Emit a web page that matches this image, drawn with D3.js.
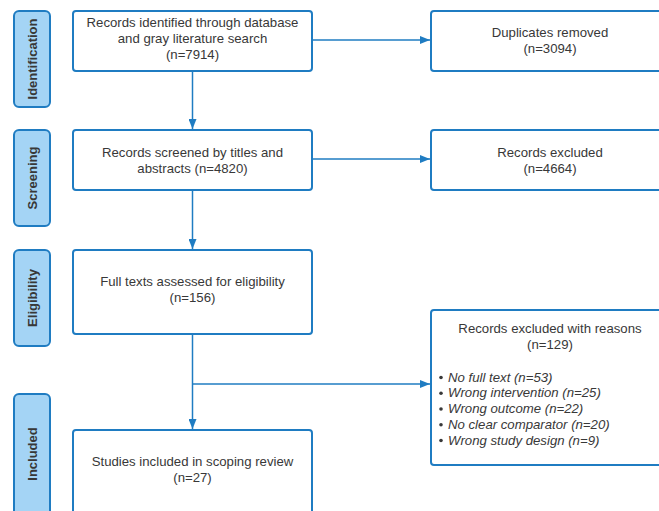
<!DOCTYPE html>
<html>
<head>
<meta charset="utf-8">
<script src="https://cdn.jsdelivr.net/npm/d3@7"></script>
<style>
  body { margin: 0; background: #fff; }
  svg { display: block; font-family: "Liberation Sans", Arial, sans-serif; }
</style>
</head>
<body>
<svg id="chart"></svg>
<script>
const stages = ["Identification", "Screening", "Eligibility", "Included"];

const mainLabels = [
  ["Records identified through database", "and gray literature search"],
  ["Records screened by titles and", "abstracts (n=4820)"],
  ["Full texts assessed for eligibility"],
  ["Studies included in scoping review"],
];
const mainCounts = ["(n=7914)", null, "(n=156)", "(n=27)"];

const sideLabels = [
  ["Duplicates removed"],
  ["Records excluded"],
  ["Records excluded with reasons"],
];
const sideCounts = ["(n=3094)", "(n=4664)", "(n=129)"];

const reasons = [
  "No full text (n=53)",
  "Wrong intervention (n=25)",
  "Wrong outcome (n=22)",
  "No clear comparator (n=20)",
  "Wrong study design (n=9)",
];

const w = 659;
const h = 511;
const blue = "#1f7cc2";
const ink = "#383838";

const svg = d3.select("#chart").attr("width", w).attr("height", h);

svg.append("defs")
  .append("marker")
  .attr("id", "arrow")
  .attr("viewBox", "0 0 10 8")
  .attr("refX", 10)
  .attr("refY", 4)
  .attr("markerWidth", 10)
  .attr("markerHeight", 8)
  .attr("markerUnits", "userSpaceOnUse")
  .attr("orient", "auto")
  .append("path")
  .attr("d", "M0,0 L10,4 L0,8 Z")
  .attr("fill", blue);

// rows of the flow: top / bottom of each main box
const rows = [
  { top: 11, bottom: 71 },
  { top: 130, bottom: 190 },
  { top: 250, bottom: 334 },
  { top: 430, bottom: 520 },
];
const stageRows = [
  { top: 11, bottom: 107 },
  { top: 130, bottom: 226 },
  { top: 250, bottom: 346 },
  { top: 394, bottom: 520 },
];
const sideRows = [
  { top: 11, bottom: 71 },
  { top: 130, bottom: 190 },
  { top: 310, bottom: 465 },
];

const x = d3.scaleLinear().domain([0, 1]).range([73, 312]);
const xs = d3.scaleLinear().domain([0, 1]).range([431, 670]);
const cx = x(0.5);

// stage labels
const stageG = svg.append("g")
  .selectAll("g")
  .data(stages)
  .join("g");

stageG.append("rect")
  .attr("x", 14)
  .attr("y", (d, i) => stageRows[i].top)
  .attr("width", 36)
  .attr("height", (d, i) => stageRows[i].bottom - stageRows[i].top)
  .attr("rx", 5)
  .attr("fill", "#a4d4f5")
  .attr("stroke", blue)
  .attr("stroke-width", 2);

stageG.append("text")
  .attr("transform", (d, i) => {
    const r = stageRows[i];
    const my = i === 3 ? 454 : (r.top + r.bottom) / 2;
    return `translate(32,${my}) rotate(-90)`;
  })
  .attr("text-anchor", "middle")
  .attr("dominant-baseline", "central")
  .attr("font-size", 13)
  .attr("font-weight", "bold")
  .attr("fill", ink)
  .text((d) => d);

// connectors
const links = svg.append("g")
  .attr("fill", "none")
  .attr("stroke", blue)
  .attr("stroke-width", 1.5);

[0, 1].forEach((i) => {
  links.append("line")
    .attr("x1", cx).attr("y1", rows[i].bottom)
    .attr("x2", cx).attr("y2", rows[i + 1].top - 1)
    .attr("marker-end", "url(#arrow)");
  links.append("line")
    .attr("x1", x(1)).attr("y1", (rows[i].top + rows[i].bottom) / 2 - 1)
    .attr("x2", xs(0) - 1).attr("y2", (rows[i].top + rows[i].bottom) / 2 - 1)
    .attr("marker-end", "url(#arrow)");
});
links.append("line")
  .attr("x1", cx).attr("y1", rows[2].bottom)
  .attr("x2", cx).attr("y2", rows[3].top - 1)
  .attr("marker-end", "url(#arrow)");
links.append("line")
  .attr("x1", cx).attr("y1", 384)
  .attr("x2", xs(0) - 1).attr("y2", 384)
  .attr("marker-end", "url(#arrow)");

// main boxes
const mainG = svg.append("g")
  .selectAll("g")
  .data(mainLabels)
  .join("g");

mainG.append("rect")
  .attr("x", x(0))
  .attr("y", (d, i) => rows[i].top)
  .attr("width", x(1) - x(0))
  .attr("height", (d, i) => rows[i].bottom - rows[i].top)
  .attr("rx", 3)
  .attr("fill", "#fff")
  .attr("stroke", blue)
  .attr("stroke-width", 2);

const textTops = [22, 152, 281, 461];
mainG.each(function (d, i) {
  const lines = mainCounts[i] ? d.concat([mainCounts[i]]) : d;
  d3.select(this).append("text")
    .attr("text-anchor", "middle")
    .attr("font-size", 13.2)
    .attr("fill", ink)
    .selectAll("tspan")
    .data(lines)
    .join("tspan")
    .attr("x", cx)
    .attr("y", (l, j) => textTops[i] + j * 16)
    .attr("dy", "0.35em")
    .text((l) => l);
});

// side boxes
const sideG = svg.append("g")
  .selectAll("g")
  .data(sideLabels)
  .join("g");

sideG.append("rect")
  .attr("x", xs(0))
  .attr("y", (d, i) => sideRows[i].top)
  .attr("width", xs(1) - xs(0))
  .attr("height", (d, i) => sideRows[i].bottom - sideRows[i].top)
  .attr("rx", 3)
  .attr("fill", "#fff")
  .attr("stroke", blue)
  .attr("stroke-width", 2);

const sideTops = [32, 152, 328];
sideG.each(function (d, i) {
  d3.select(this).append("text")
    .attr("text-anchor", "middle")
    .attr("font-size", 13.2)
    .attr("fill", ink)
    .selectAll("tspan")
    .data(d.concat([sideCounts[i]]))
    .join("tspan")
    .attr("x", 550)
    .attr("y", (l, j) => sideTops[i] + j * 16)
    .attr("dy", "0.35em")
    .text((l) => l);
});

const reasonY = d3.scalePoint()
  .domain(reasons)
  .range([377, 440]);

const reasonG = svg.append("g")
  .attr("font-size", 13.2)
  .attr("fill", ink);

reasonG.selectAll("circle")
  .data(reasons)
  .join("circle")
  .attr("cx", 441)
  .attr("cy", (d) => reasonY(d) + 0.5)
  .attr("r", 1.8)
  .attr("fill", ink);

reasonG.selectAll("text")
  .data(reasons)
  .join("text")
  .attr("x", 448)
  .attr("y", (d) => reasonY(d))
  .attr("dy", "0.35em")
  .attr("font-style", "italic")
  .text((d) => d);
</script>
</body>
</html>
